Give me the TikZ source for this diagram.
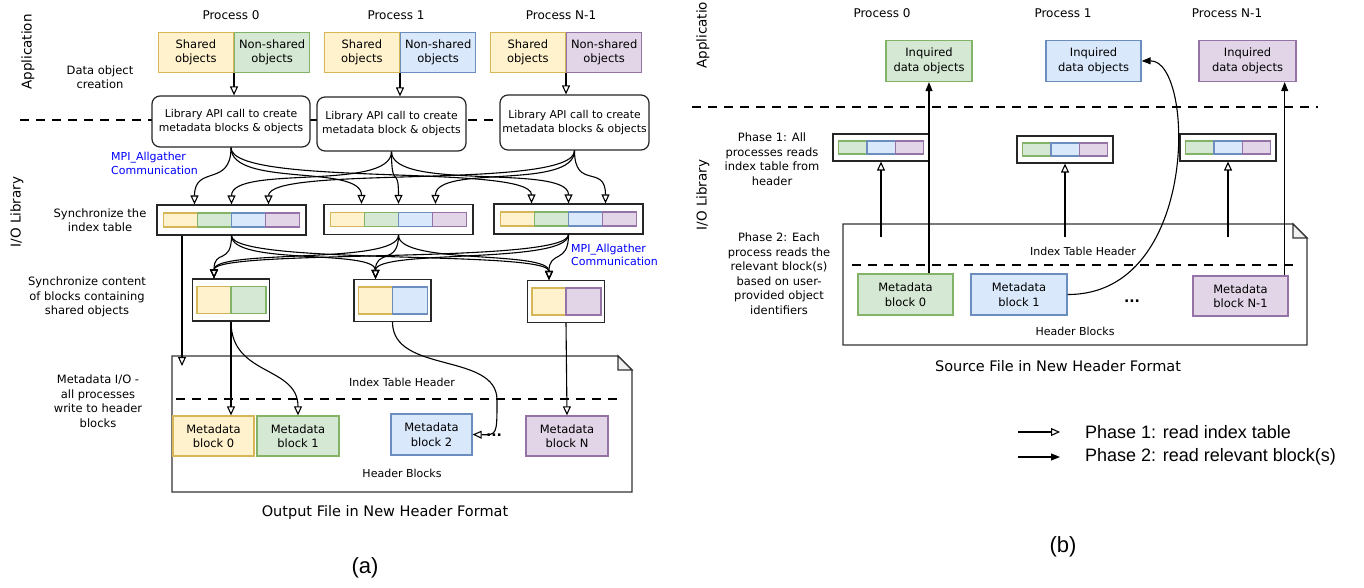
\documentclass[tikz,border=0pt]{standalone}
\usepackage{fontspec}
\setmainfont{DejaVu Sans}
\newfontfamily\capfont{Liberation Sans}
\usetikzlibrary{arrows.meta}

\definecolor{yelfill}{HTML}{FFF2CC}\definecolor{yelline}{HTML}{D6B656}
\definecolor{grnfill}{HTML}{D5E8D4}\definecolor{grnline}{HTML}{82B366}
\definecolor{blufill}{HTML}{DAE8FC}\definecolor{bluline}{HTML}{6C8EBF}
\definecolor{purfill}{HTML}{E1D5E7}\definecolor{purline}{HTML}{9673A6}
\definecolor{mpiblue}{HTML}{0000FF}

\begin{document}
\begin{tikzpicture}[x=1pt, y=-1pt,
    font=\fontsize{11.5}{14.5}\selectfont,
    box/.style={draw=black!85, line width=1.2pt, fill=white, inner sep=0pt, align=center},
    api/.style={box, rounded corners=8pt, font=\fontsize{10.8}{14}\selectfont},
    colbox/.style={draw=#1line, fill=#1fill, line width=1.3pt, inner sep=0pt, align=center},
    filebox/.style={draw=black!80, line width=1.2pt, fill=white},
    lbl/.style={align=center, inner sep=0pt},
    mpi/.style={align=left, inner sep=0pt, text=mpiblue, font=\fontsize{11}{13.5}\selectfont},
    sep/.style={line width=2.5pt, dash pattern=on 9pt off 7pt},
    link/.style={line width=1.1pt},
    open/.style={-{Triangle[open, length=9pt, width=8pt]}},
    fillarrow/.style={-{Triangle[length=9pt, width=7pt]}},
    dotsbox/.style={inner sep=0pt, font=\bfseries\fontsize{14}{14}\selectfont},
    subcap/.style={font=\capfont\fontsize{22}{24}\selectfont}]

    \useasboundingbox[fill=white] (0,0) rectangle (1364,588);

    % ---------------- (a) ----------------
    % Layers
    \node[rotate=90, font=\fontsize{13.5}{15}\selectfont] (appA) at (28,52) {Application};
    \node[rotate=90, font=\fontsize{13.5}{15}\selectfont] (ioA) at (17,212) {I/O Library};
    \draw[sep] (20,120) -- (648,120);

    % Processes and their data objects
    \foreach \n/\x/\t in {0/231/0, 1/396/1, 2/561/N-1}
        \node[lbl, font=\fontsize{12}{14}\selectfont] (prA\n) at (\x,15) {Process \t};
    \foreach \n/\x/\col in {0/234/grn, 1/400/blu, 2/566/pur} {
        \node[colbox=yel, minimum width=75pt, minimum height=40pt, anchor=east] (sh\n) at (\x,52.5) {Shared\\objects};
        \node[colbox=\col, minimum width=75pt, minimum height=40pt, anchor=west] (ns\n) at (\x,52.5) {Non-shared\\objects};
    }
    \node[lbl] (creA) at (100,77) {Data object\\creation};

    % Library API calls
    \node[api, minimum width=158pt, minimum height=51pt] (api0) at (231,121.5) {Library API call to create\\metadata blocks \& objects};
    \node[api, minimum width=149pt, minimum height=54pt] (api1) at (391.5,124) {Library API call to create\\metadata block \& objects};
    \node[api, minimum width=149pt, minimum height=55pt] (api2) at (574.5,122.5) {Library API call to create\\metadata blocks \& objects};
    \foreach \n in {0,1,2}
        \draw[link, open] (sh\n.south east) -- (sh\n.south east |- api\n.north);

    % Index tables
    \node[lbl] (syA) at (100,220) {Synchronize the\\index table};
    \foreach \n/\x/\y in {0/231.5/220, 1/398.5/219.5, 2/568.5/219} {
        \node[box, minimum width=149pt, minimum height=30pt] (idx\n) at (\x,\y) {};
        \foreach \col [count=\k] in {yel,grn,blu,pur}
            \node[colbox=\col, minimum width=34pt, minimum height=14pt] at ([xshift={(\k-2.5)*34pt}]idx\n.center) {};
    }
    \node[mpi, anchor=west] (mpiA) at (111,163.5) {MPI\_Allgather\\Communication};
    \foreach \i in {0,1,2}
        \foreach \j in {0,1,2}
            \draw[link, open] (api\i.south) .. controls +(0,40) and +(0,-40) .. ([xshift={(\i-1)*37pt}]idx\j.north);

    % Shared block contents
    \node[lbl] (scA) at (87,297) {Synchronize content\\of blocks containing\\shared objects};
    \foreach \n/\x/\y/\col in {0/231/300/grn, 1/392.5/300.5/blu, 2/566/301.5/pur} {
        \node[box, minimum width=77pt, minimum height=42pt] (sync\n) at (\x,\y) {};
        \node[colbox=yel, minimum width=34pt, minimum height=27pt] (sy\n) at ([xshift=-17pt]sync\n.center) {};
        \node[colbox=\col, minimum width=35pt, minimum height=27pt] at ([xshift=17.5pt]sync\n.center) {};
    }
    \node[mpi, anchor=west] (mpiB) at (571,255) {MPI\_Allgather\\Communication};
    \foreach \j in {0,1,2}
        \foreach \k in {0,1,2}
            \draw[link, open] (idx\j.south) .. controls +(0,30) and +(0,-30) .. (sync\k.north -| sy\k);

    % Output file
    \node[lbl] (mioA) at (98,401) {Metadata I/O -\\all processes\\write to header\\blocks};
    \draw[filebox] (172,356) -- (618,356) -- (632,370) -- (632,492) -- (172,492) -- cycle;
    \draw[filebox, fill=gray!12] (618,356) -- (618,370) -- (632,370) -- cycle;
    \node[lbl, font=\fontsize{11}{13}\selectfont] (ithA) at (402,382) {Index Table Header};
    \draw[sep] (176,399) -- (623,399);
    \node[colbox=yel, minimum width=81pt, minimum height=40pt] (md0) at (213.5,436) {Metadata\\block 0};
    \node[colbox=grn, minimum width=82pt, minimum height=40pt] (md1) at (298,436) {Metadata\\block 1};
    \node[colbox=blu, minimum width=81pt, minimum height=41pt] (md2) at (431.5,434.5) {Metadata\\block 2};
    \node[colbox=pur, minimum width=82pt, minimum height=40pt] (md3) at (567,436) {Metadata\\block N};
    \node[dotsbox] (dotA) at (494,435) {...};
    \node[lbl, font=\fontsize{11}{13}\selectfont] (hbA) at (402,473) {Header Blocks};
    \node[lbl, font=\fontsize{14.5}{16}\selectfont] (ofA) at (385,512) {Output File in New Header Format};
    \node[subcap] (capA) at (365,568) {(a)};

    \coordinate (hdrin) at (182,366);
    \draw[link, open] (hdrin |- idx0.south) -- (hdrin);
    \draw[link, open] (sync0.south) -- (sync0.south |- md0.north);
    \draw[link, open] (sync0.south) .. controls +(0,55) and +(0,-50) .. (md1.north);
    \draw[link, open] (sync1.south) .. controls +(0,52) and (497,352) .. (497,400) .. controls (497,435) .. (md2.east);
    \draw[link, open] (sync2.south) -- (md3.north);

    % ---------------- (b) ----------------
    % Layers
    \node[rotate=90, font=\fontsize{13.5}{15}\selectfont] (appB) at (703,31) {Application};
    \node[rotate=90, font=\fontsize{13.5}{15}\selectfont] (ioB) at (703,195) {I/O Library};
    \draw[sep] (692,107) -- (1318,107);

    % Processes and inquired objects
    \foreach \n/\x/\t in {0/882/0, 1/1063/1, 2/1227/N-1}
        \node[lbl, font=\fontsize{12}{14}\selectfont] (prB\n) at (\x,13) {Process \t};
    \node[colbox=grn, minimum width=86pt, minimum height=41pt] (inq0) at (929,61) {Inquired\\data objects};
    \node[colbox=blu, minimum width=95pt, minimum height=41pt] (inq1) at (1093.5,61) {Inquired\\data objects};
    \node[colbox=pur, minimum width=97pt, minimum height=41pt] (inq2) at (1247.5,61) {Inquired\\data objects};

    % Index tables read by each process
    \node[lbl] (ph1) at (772,159) {Phase 1: All\\processes reads\\index table from\\header};
    \foreach \n/\x/\y in {0/881/147.5, 1/1065/149.5, 2/1228/147.5} {
        \node[box, minimum width=96pt, minimum height=27pt] (rb\n) at (\x,\y) {};
        \foreach \col [count=\k] in {grn,blu,pur}
            \node[colbox=\col, minimum width=28.3pt, minimum height=13pt] at ([xshift={(\k-2)*28.3pt}]rb\n.center) {};
    }

    % Source file
    \node[lbl] (ph2) at (779,273.5) {Phase 2: Each\\process reads the\\relevant block(s)\\based on user-\\provided object\\identifiers};
    \draw[filebox] (843,224) -- (1293,224) -- (1307,238) -- (1307,345) -- (843,345) -- cycle;
    \draw[filebox, fill=gray!12] (1293,224) -- (1293,238) -- (1307,238) -- cycle;
    \node[lbl, font=\fontsize{11}{13}\selectfont] (ithB) at (1083,251) {Index Table Header};
    \draw[sep] (852,265) -- (1298,265);
    \node[colbox=grn, minimum width=95pt, minimum height=41pt] (mb0) at (905.5,294.5) {Metadata\\block 0};
    \node[colbox=blu, minimum width=96pt, minimum height=41pt] (mb1) at (1019,294.5) {Metadata\\block 1};
    \node[colbox=pur, minimum width=95pt, minimum height=40pt] (mb3) at (1240.5,296) {Metadata\\block N-1};
    \node[dotsbox] (dotB) at (1132,301) {...};
    \node[lbl, font=\fontsize{11}{13}\selectfont] (hbB) at (1075,331) {Header Blocks};
    \node[lbl, font=\fontsize{14.5}{16}\selectfont] (sfB) at (1058,366) {Source File in New Header Format};

    % Phase 1 and phase 2 reads
    \foreach \n/\x in {0/881, 1/1065, 2/1228} {
        \coordinate (rd\n) at (\x,237);
        \draw[link, open] (rd\n) -- (rb\n.south);
    }
    \coordinate (p2c) at ([xshift=-4pt]mb3.north east);
    \draw[link, fillarrow] (inq0.south |- mb0.north) -- (inq0.south);
    \draw[link, fillarrow] (mb1.east) .. controls (1200,295) and (1195,60) .. (inq1.east);
    \draw[link, fillarrow] (p2c) -- (p2c |- inq2.south);

    % Legend
    \node[anchor=west, inner sep=0pt, font=\capfont\fontsize{18}{20}\selectfont] (leg1) at (1085,432) {Phase 1: read index table};
    \node[anchor=west, inner sep=0pt, font=\capfont\fontsize{18}{20}\selectfont] (leg2) at (1085,457) {Phase 2: read relevant block(s)};
    \coordinate (lg1) at (1018,432);
    \coordinate (lg2) at (1018,457);
    \draw[link, open] (lg1) -- ([xshift=-25pt]leg1.west);
    \draw[link, fillarrow] (lg2) -- ([xshift=-25pt]leg2.west);
    \node[subcap] (capB) at (1063,547) {(b)};
\end{tikzpicture}
\end{document}
